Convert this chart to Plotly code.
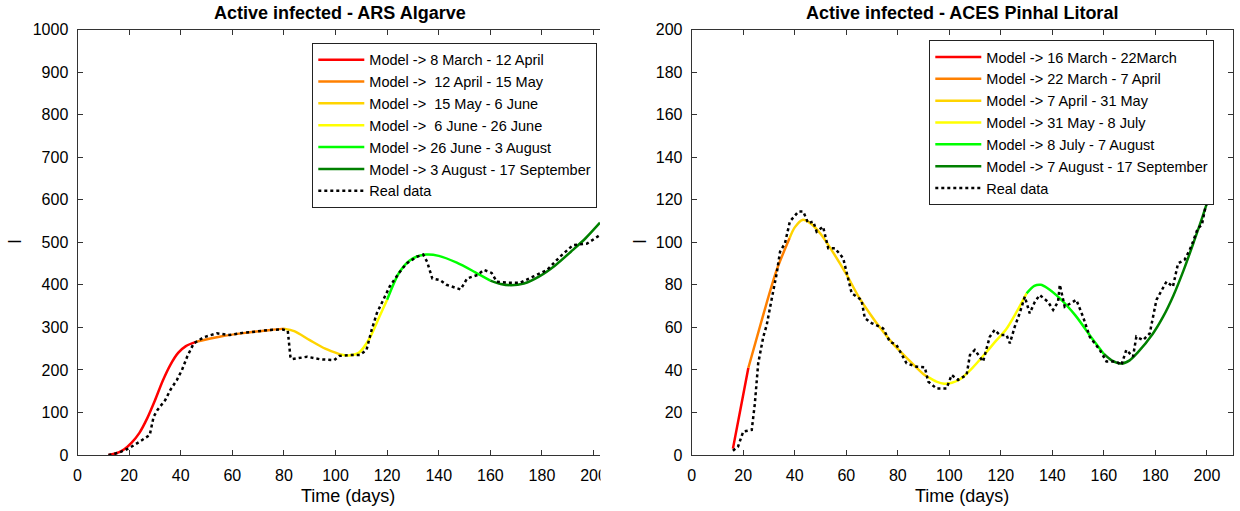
import plotly.graph_objects as go

# ---------------- Left panel: ARS Algarve ----------------
left_title = "Active infected - ARS Algarve"
left_seg_names = [
    "Model -> 8 March - 12 April",
    "Model ->  12 April - 15 May",
    "Model ->  15 May - 6 June",
    "Model ->  6 June - 26 June",
    "Model -> 26 June - 3 August",
    "Model -> 3 August - 17 September",
]
left_seg_days = [
    [12, 15, 18, 21, 24, 27, 30, 33, 36, 39, 42, 46],
    [46, 55, 65, 75, 80],
    [80, 84, 90, 96, 102],
    [102, 105, 109, 113, 117, 120],
    [120, 125, 130, 135, 140, 147, 154, 160],
    [160, 164, 168, 173, 179, 185, 192, 197, 202.5],
]
left_seg_vals = [
    [0, 4, 13, 29, 52, 86, 128, 174, 212, 240, 256, 266],
    [266, 278, 287, 294, 297],
    [297, 291, 270, 250, 236],
    [236, 234, 240, 272, 325, 365],
    [365, 432, 462, 471, 468, 452, 430, 410],
    [410, 402, 399, 403, 420, 445, 482, 510, 546],
]
left_real_days = [12, 14, 17, 20, 24, 28, 29.5, 31, 34, 36, 38.5, 40.5, 42.5, 45, 49, 54,
                  59, 64, 69, 74.5, 79.5, 81.5, 82.5, 83, 89, 94, 99.5, 101.5, 105.5, 109.5,
                  112, 114, 116, 118.5, 121, 124.5, 127.5, 131.5, 134, 135.5, 137.5, 140.5,
                  143, 148.5, 151, 155, 157.5, 160.5, 162.5, 166.5, 171.5, 176.5, 182, 187,
                  192, 197.5, 202.5]
left_real_vals = [0, 2, 8, 16, 31, 47, 90, 106, 129, 153, 176, 200, 231, 262, 277, 286,
                  282, 287, 290, 294, 295, 292, 231, 225, 231, 225, 223, 233, 235, 235,
                  247, 294, 333, 364, 396, 427, 450, 466, 471, 454, 415, 411,
                  400, 389, 415, 423, 435, 428, 407, 405, 405, 419, 435, 466,
                  493, 497, 517]

# ---------------- Right panel: ACES Pinhal Litoral ----------------
right_title = "Active infected - ACES Pinhal Litoral"
right_seg_names = [
    "Model -> 16 March - 22March",
    "Model -> 22 March - 7 April",
    "Model -> 7 April - 31 May",
    "Model -> 31 May - 8 July",
    "Model -> 8 July - 7 August",
    "Model -> 7 August - 17 September",
]
right_seg_days = [
    [16, 19, 22],
    [22, 27.8, 33, 38],
    [38, 40, 43, 46, 50, 55, 60, 65, 70, 73, 78, 84, 90, 92],
    [92, 95, 98, 101, 104, 109, 114, 118, 122, 126, 130],
    [130, 133, 135.5, 138, 143, 149, 155, 160],
    [160, 163, 166.8, 170, 173, 179, 183, 187, 191, 195, 198, 201],
]
right_seg_vals = [
    [3, 22, 41],
    [41, 66, 87, 102],
    [102, 107, 110.5, 109, 104, 95, 85, 74, 65, 60, 52.5, 45, 38, 36.5],
    [36.5, 34.5, 33.5, 34, 35.5, 41, 47.8, 53.5, 59, 67, 76],
    [76, 79.5, 80, 78.5, 73.5, 65.5, 55.5, 47.5],
    [47.5, 44.5, 43, 44.5, 48, 57, 65, 75, 87, 100.5, 111, 122],
]
right_real_days = [16, 18, 20, 23.3, 24.5, 25.8, 27.8, 29.1, 31, 33, 34.3, 36.2, 38.1, 41.4,
                   43.3, 45.2, 47.2, 48.5, 51, 53, 55.6, 58.8, 60.7, 62.1, 65.9, 67.2, 69.8,
                   72.5, 74.3, 76.9, 79.5, 83.4, 87.3, 90.5, 91.8, 95, 98.9, 100.9, 103.4,
                   106.7, 108, 109.9, 113.1, 115.7, 117.6, 119.6, 122.2, 123.5, 125.4, 127.3,
                   129.3, 131.2, 133.2, 135.1, 138.3, 140.3, 142.2, 142.9, 144.8, 149.3,
                   151.9, 154.5, 158.4, 161, 164.9, 166.8, 168.7, 171.3, 172.6, 175.2, 177.8,
                   180.4, 184.3, 186.8, 188.8, 191.3, 193.3, 194.6, 196.5, 198, 199.5, 201]
right_real_vals = [2, 4, 11, 11.8, 24, 43, 55.6, 61, 73, 85.4, 95.6, 99.5, 109.7, 114.4,
                   114.4, 109, 109.7, 105, 107.3, 97.2, 97.2, 92.5, 83, 76, 72.9, 64.3, 62,
                   60.5, 59.5, 53.3, 51.7, 43.1, 41.5, 41.2, 34.5, 31.3, 31.3, 37.6, 35.3,
                   37.6, 47, 49.4, 43.9, 55.6, 58.8, 56.4, 56.4, 52.5, 60.3, 66.6,
                   74.4, 66.6, 72, 75.2, 72, 68.2, 72, 80, 69.7, 72.9,
                   65, 55.6, 49.4, 43.9, 43.9, 42.3, 49.4, 46.2, 55.6, 54, 57.2,
                   72.9, 81.5, 79.1, 90.1, 91.7, 96.4, 100.3, 106.7, 108, 117, 121]

seg_colors = ["#ff0000", "#ff8000", "#ffd400", "#ffff00", "#00ff00", "#008000"]
real_name = "Real data"

x_ticks = list(range(0, 201, 20))
left_y_ticks = list(range(0, 1001, 100))
right_y_ticks = list(range(0, 201, 20))

W, H = 1240, 511
FONT = "Liberation Sans, Arial, sans-serif"
AX = "#333333"

fig = go.Figure()

def add_panel(names, days, vals, rdays, rvals, xa, ya, leg):
    for nm, d, v, c in zip(names, days, vals, seg_colors):
        fig.add_trace(go.Scatter(x=d, y=v, mode="lines", name=nm,
                                 line=dict(color=c, width=2.5, shape="spline", smoothing=0.8),
                                 xaxis=xa, yaxis=ya, legend=leg, hoverinfo="skip"))
    fig.add_trace(go.Scatter(x=rdays, y=rvals, mode="lines", name=real_name,
                             line=dict(color="black", width=2.5, dash="3px,3px"),
                             xaxis=xa, yaxis=ya, legend=leg, hoverinfo="skip"))

add_panel(left_seg_names, left_seg_days, left_seg_vals, left_real_days, left_real_vals, "x", "y", "legend")
add_panel(right_seg_names, right_seg_days, right_seg_vals, right_real_days, right_real_vals, "x2", "y2", "legend2")
# empty traces so the overlay (tick-only) axes get their own subplots
fig.add_trace(go.Scatter(x=[], y=[], xaxis="x3", yaxis="y3", showlegend=False, hoverinfo="skip"))
fig.add_trace(go.Scatter(x=[], y=[], xaxis="x4", yaxis="y4", showlegend=False, hoverinfo="skip"))

def px(x):
    return x / W

def py(y):
    return (H - y) / H

# label-carrying axes: transparent outside ticks push the labels away from the frame
label_common = dict(showline=True, linecolor=AX, linewidth=1, ticks="outside",
                    tickcolor="rgba(0,0,0,0)", showgrid=False, zeroline=False,
                    automargin=False, tickfont=dict(family=FONT, size=16, color="black"))
# overlay axes: visible inside ticks only
tick_common = dict(showline=True, linecolor=AX, linewidth=1, ticks="inside", ticklen=5,
                   tickcolor=AX, showgrid=False, zeroline=False, automargin=False,
                   showticklabels=False)

ydom = [py(455), py(29.5)]
xdom1 = [px(77.5), px(600)]
xdom2 = [px(691.7), px(1232.7)]
legend_common = dict(xanchor="left", yanchor="top", bgcolor="white", bordercolor="#222222",
                     borderwidth=1, itemwidth=46,
                     font=dict(family=FONT, size=14.5, color="black"))
fig.update_layout(
    width=W, height=H, margin=dict(l=0, r=0, t=0, b=0, pad=0, autoexpand=False),
    paper_bgcolor="white", plot_bgcolor="white",
    font=dict(family=FONT, color="black"),
    xaxis=dict(domain=xdom1, range=[0, 202.5], tickvals=x_ticks, ticklen=6,
               mirror=True, anchor="y", **label_common),
    yaxis=dict(domain=ydom, range=[0, 1000], tickvals=left_y_ticks, ticklen=5,
               mirror=False, anchor="x", **label_common),
    xaxis2=dict(domain=xdom2, range=[0, 210], tickvals=x_ticks, ticklen=6,
                mirror=True, anchor="y2", **label_common),
    yaxis2=dict(domain=ydom, range=[0, 200], tickvals=right_y_ticks, ticklen=5,
                mirror=True, anchor="x2", **label_common),
    xaxis3=dict(domain=xdom1, range=[0, 202.5], tickvals=x_ticks, overlaying="x",
                mirror="ticks", anchor="y3", **tick_common),
    yaxis3=dict(domain=ydom, range=[0, 1000], tickvals=left_y_ticks, overlaying="y",
                mirror=False, anchor="x3", **tick_common),
    xaxis4=dict(domain=xdom2, range=[0, 210], tickvals=x_ticks, overlaying="x2",
                mirror="ticks", anchor="y4", **tick_common),
    yaxis4=dict(domain=ydom, range=[0, 200], tickvals=right_y_ticks, overlaying="y2",
                mirror="ticks", anchor="x4", **tick_common),
    legend=dict(x=px(312.3), y=py(42.7), **legend_common),
    legend2=dict(x=px(929.3), y=py(40), **legend_common),
    showlegend=True,
)

ann = []
ann.append(dict(text="<b>" + left_title + "</b>", x=px(340), y=py(13), xref="paper", yref="paper",
                showarrow=False, xanchor="center", yanchor="middle", font=dict(size=18)))
ann.append(dict(text="<b>" + right_title + "</b>", x=px(962), y=py(13), xref="paper", yref="paper",
                showarrow=False, xanchor="center", yanchor="middle", font=dict(size=18)))
ann.append(dict(text="Time (days)", x=px(348), y=py(496), xref="paper", yref="paper",
                showarrow=False, xanchor="center", yanchor="middle", font=dict(size=18)))
ann.append(dict(text="Time (days)", x=px(962), y=py(496), xref="paper", yref="paper",
                showarrow=False, xanchor="center", yanchor="middle", font=dict(size=18)))
ann.append(dict(text="I", x=px(15), y=py(242), xref="paper", yref="paper", textangle=-90,
                showarrow=False, xanchor="center", yanchor="middle", font=dict(size=18)))
ann.append(dict(text="I", x=px(640), y=py(242), xref="paper", yref="paper", textangle=-90,
                showarrow=False, xanchor="center", yanchor="middle", font=dict(size=18)))
fig.update_layout(annotations=ann)

# white strip emulating the clipped right edge of the left panel
fig.add_shape(type="rect", xref="paper", yref="paper", x0=px(600.5), x1=px(640), y0=py(490),
              y1=py(458), fillcolor="white", line=dict(width=0), layer="above")

fig.write_html("out.html")
